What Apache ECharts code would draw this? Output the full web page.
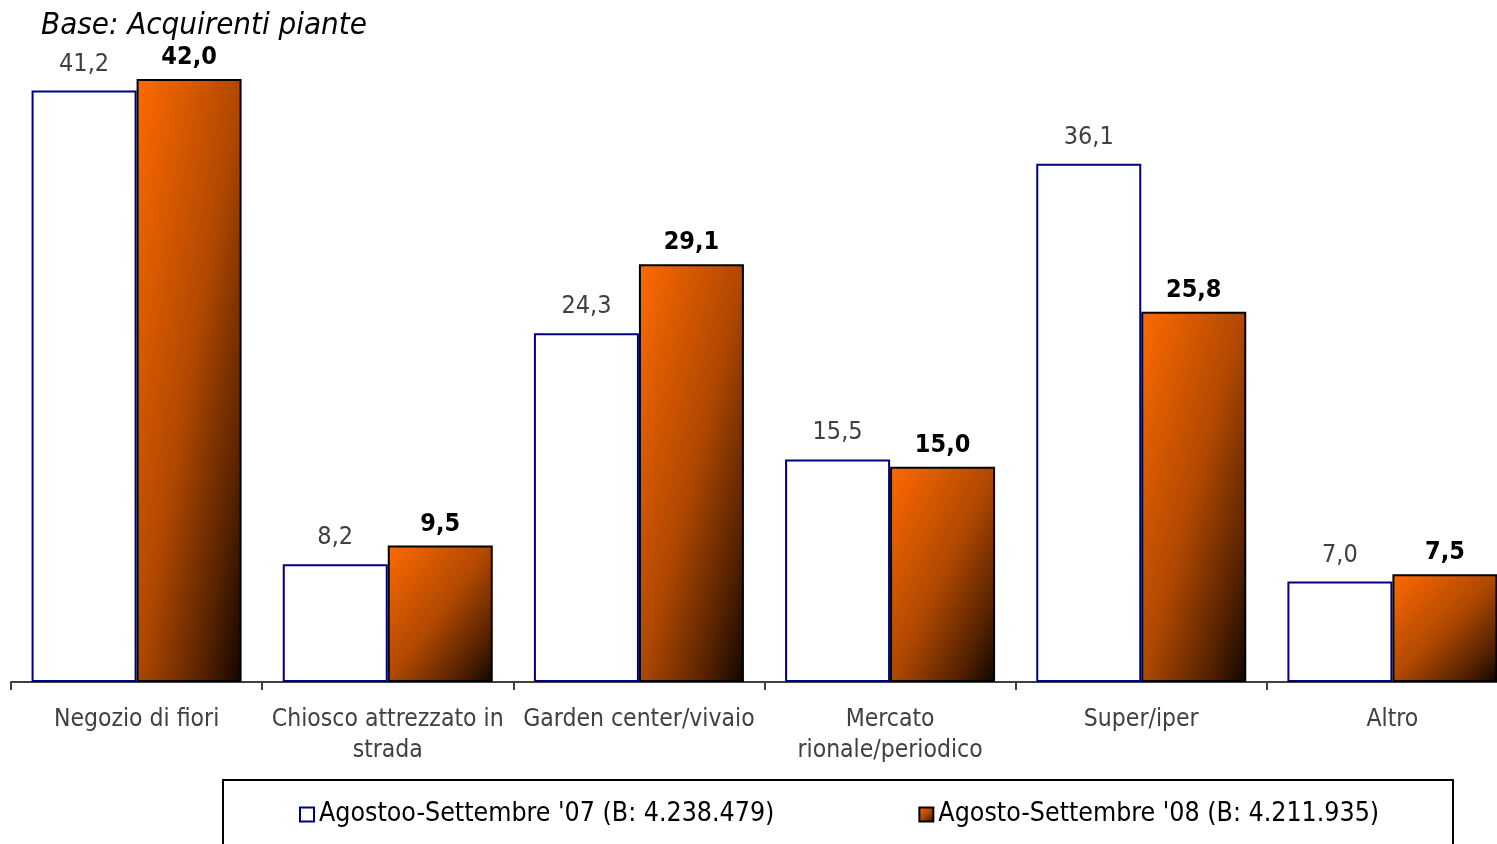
<!DOCTYPE html>
<html>
<head>
<meta charset="utf-8">
<script src="https://cdn.jsdelivr.net/npm/echarts@6/dist/echarts.min.js"></script>
<style>
  html, body { margin: 0; padding: 0; background: #ffffff; }
  #chart { width: 1497px; height: 844px; }
</style>
</head>
<body>
<div id="chart"></div>
<script>
// Canali di acquisto delle piante (%)
const categories = [
  'Negozio di fiori',
  'Chiosco attrezzato in\nstrada',
  'Garden center/vivaio',
  'Mercato\nrionale/periodico',
  'Super/iper',
  'Altro'
];
const seriesNames = [
  "Agostoo-Settembre '07 (B: 4.238.479)",
  "Agosto-Settembre '08 (B: 4.211.935)"
];
const values07 = [41.2, 8.2, 24.3, 15.5, 36.1, 7.0];
const values08 = [42.0, 9.5, 29.1, 15.0, 25.8, 7.5];

const FONT = "'DejaVu Sans Condensed', 'DejaVu Sans', sans-serif";
const BAR_W = 105;

const chart = echarts.init(document.getElementById('chart'), null, { renderer: 'canvas' });

const fmt = v => v.toFixed(1).replace('.', ',');

// orange-to-black diagonal fill; x2/y2 set per bar so the shading runs corner to corner
function orangeFill(x2, y2) {
  return new echarts.graphic.LinearGradient(0, 0, x2, y2, [
    { offset: 0, color: '#ff6a00' },
    { offset: 0.5, color: '#b04800' },
    { offset: 0.8, color: '#582300' },
    { offset: 1, color: '#100500' }
  ]);
}

const option = {
  backgroundColor: '#ffffff',
  animation: false,
  title: {
    text: 'Base: Acquirenti piante',
    left: 36,
    top: 5,
    textStyle: { fontFamily: FONT, fontSize: 31, fontStyle: 'italic', fontWeight: 'normal', color: '#000000' }
  },
  graphic: [{
    type: 'rect',
    shape: { x: 223, y: 780, width: 1230, height: 90 },
    style: { fill: '#ffffff', stroke: '#000000', lineWidth: 2 },
    z: -1
  }],
  legend: {
    left: 299,
    top: 801,
    padding: 0,
    itemWidth: 14,
    itemHeight: 14,
    itemGap: 144,
    itemTextGap: 10,
    icon: 'rect',
    textStyle: { fontFamily: FONT, fontSize: 26.5, color: '#000000' },
    data: seriesNames
  },
  // the plot runs past the right edge of the canvas, so outer-bounds fitting is off
  grid: { left: 11, top: 36, width: 1507, height: 646, outerBoundsMode: 'none', containLabel: false },
  xAxis: {
    type: 'category',
    data: categories,
    axisLine: { lineStyle: { color: '#404040', width: 2 } },
    axisTick: { show: true, length: 8, lineStyle: { color: '#404040', width: 2 } },
    axisLabel: {
      interval: 0,
      margin: 22,
      fontFamily: FONT,
      fontSize: 24.5,
      lineHeight: 31,
      color: '#404040'
    }
  },
  yAxis: { type: 'value', min: 0, max: 45, show: false, splitLine: { show: false } },
  series: [
    {
      name: seriesNames[0],
      type: 'bar',
      data: values07,
      barWidth: BAR_W,
      barGap: '0%',
      itemStyle: { color: '#ffffff', borderColor: '#000080', borderWidth: 2 },
      label: {
        show: true, position: 'top', distance: 14,
        formatter: p => fmt(p.value),
        fontFamily: FONT, fontSize: 25, color: '#404040'
      }
    },
    {
      name: seriesNames[1],
      type: 'bar',
      data: values08,
      barWidth: BAR_W,
      barGap: '0%',
      itemStyle: { color: orangeFill(1, 1), borderColor: '#000000', borderWidth: 2 },
      label: {
        show: true, position: 'top', distance: 9,
        formatter: p => fmt(p.value),
        fontFamily: FONT, fontSize: 25, fontWeight: 'bold', color: '#000000'
      }
    }
  ]
};

chart.setOption(option);

// per-bar gradient: direction follows the bar's own width/height ratio
const y0 = chart.convertToPixel({ yAxisIndex: 0 }, 0);
const shaded = values08.map(v => {
  const h = Math.max(1, y0 - chart.convertToPixel({ yAxisIndex: 0 }, v));
  const w = BAR_W;
  const x2 = 2 / (1 + (w * w) / (h * h));
  const y2 = 2 / (1 + (h * h) / (w * w));
  return { value: v, itemStyle: { color: orangeFill(x2, y2) } };
});
chart.setOption({ series: [{}, { data: shaded }] });
</script>
</body>
</html>
